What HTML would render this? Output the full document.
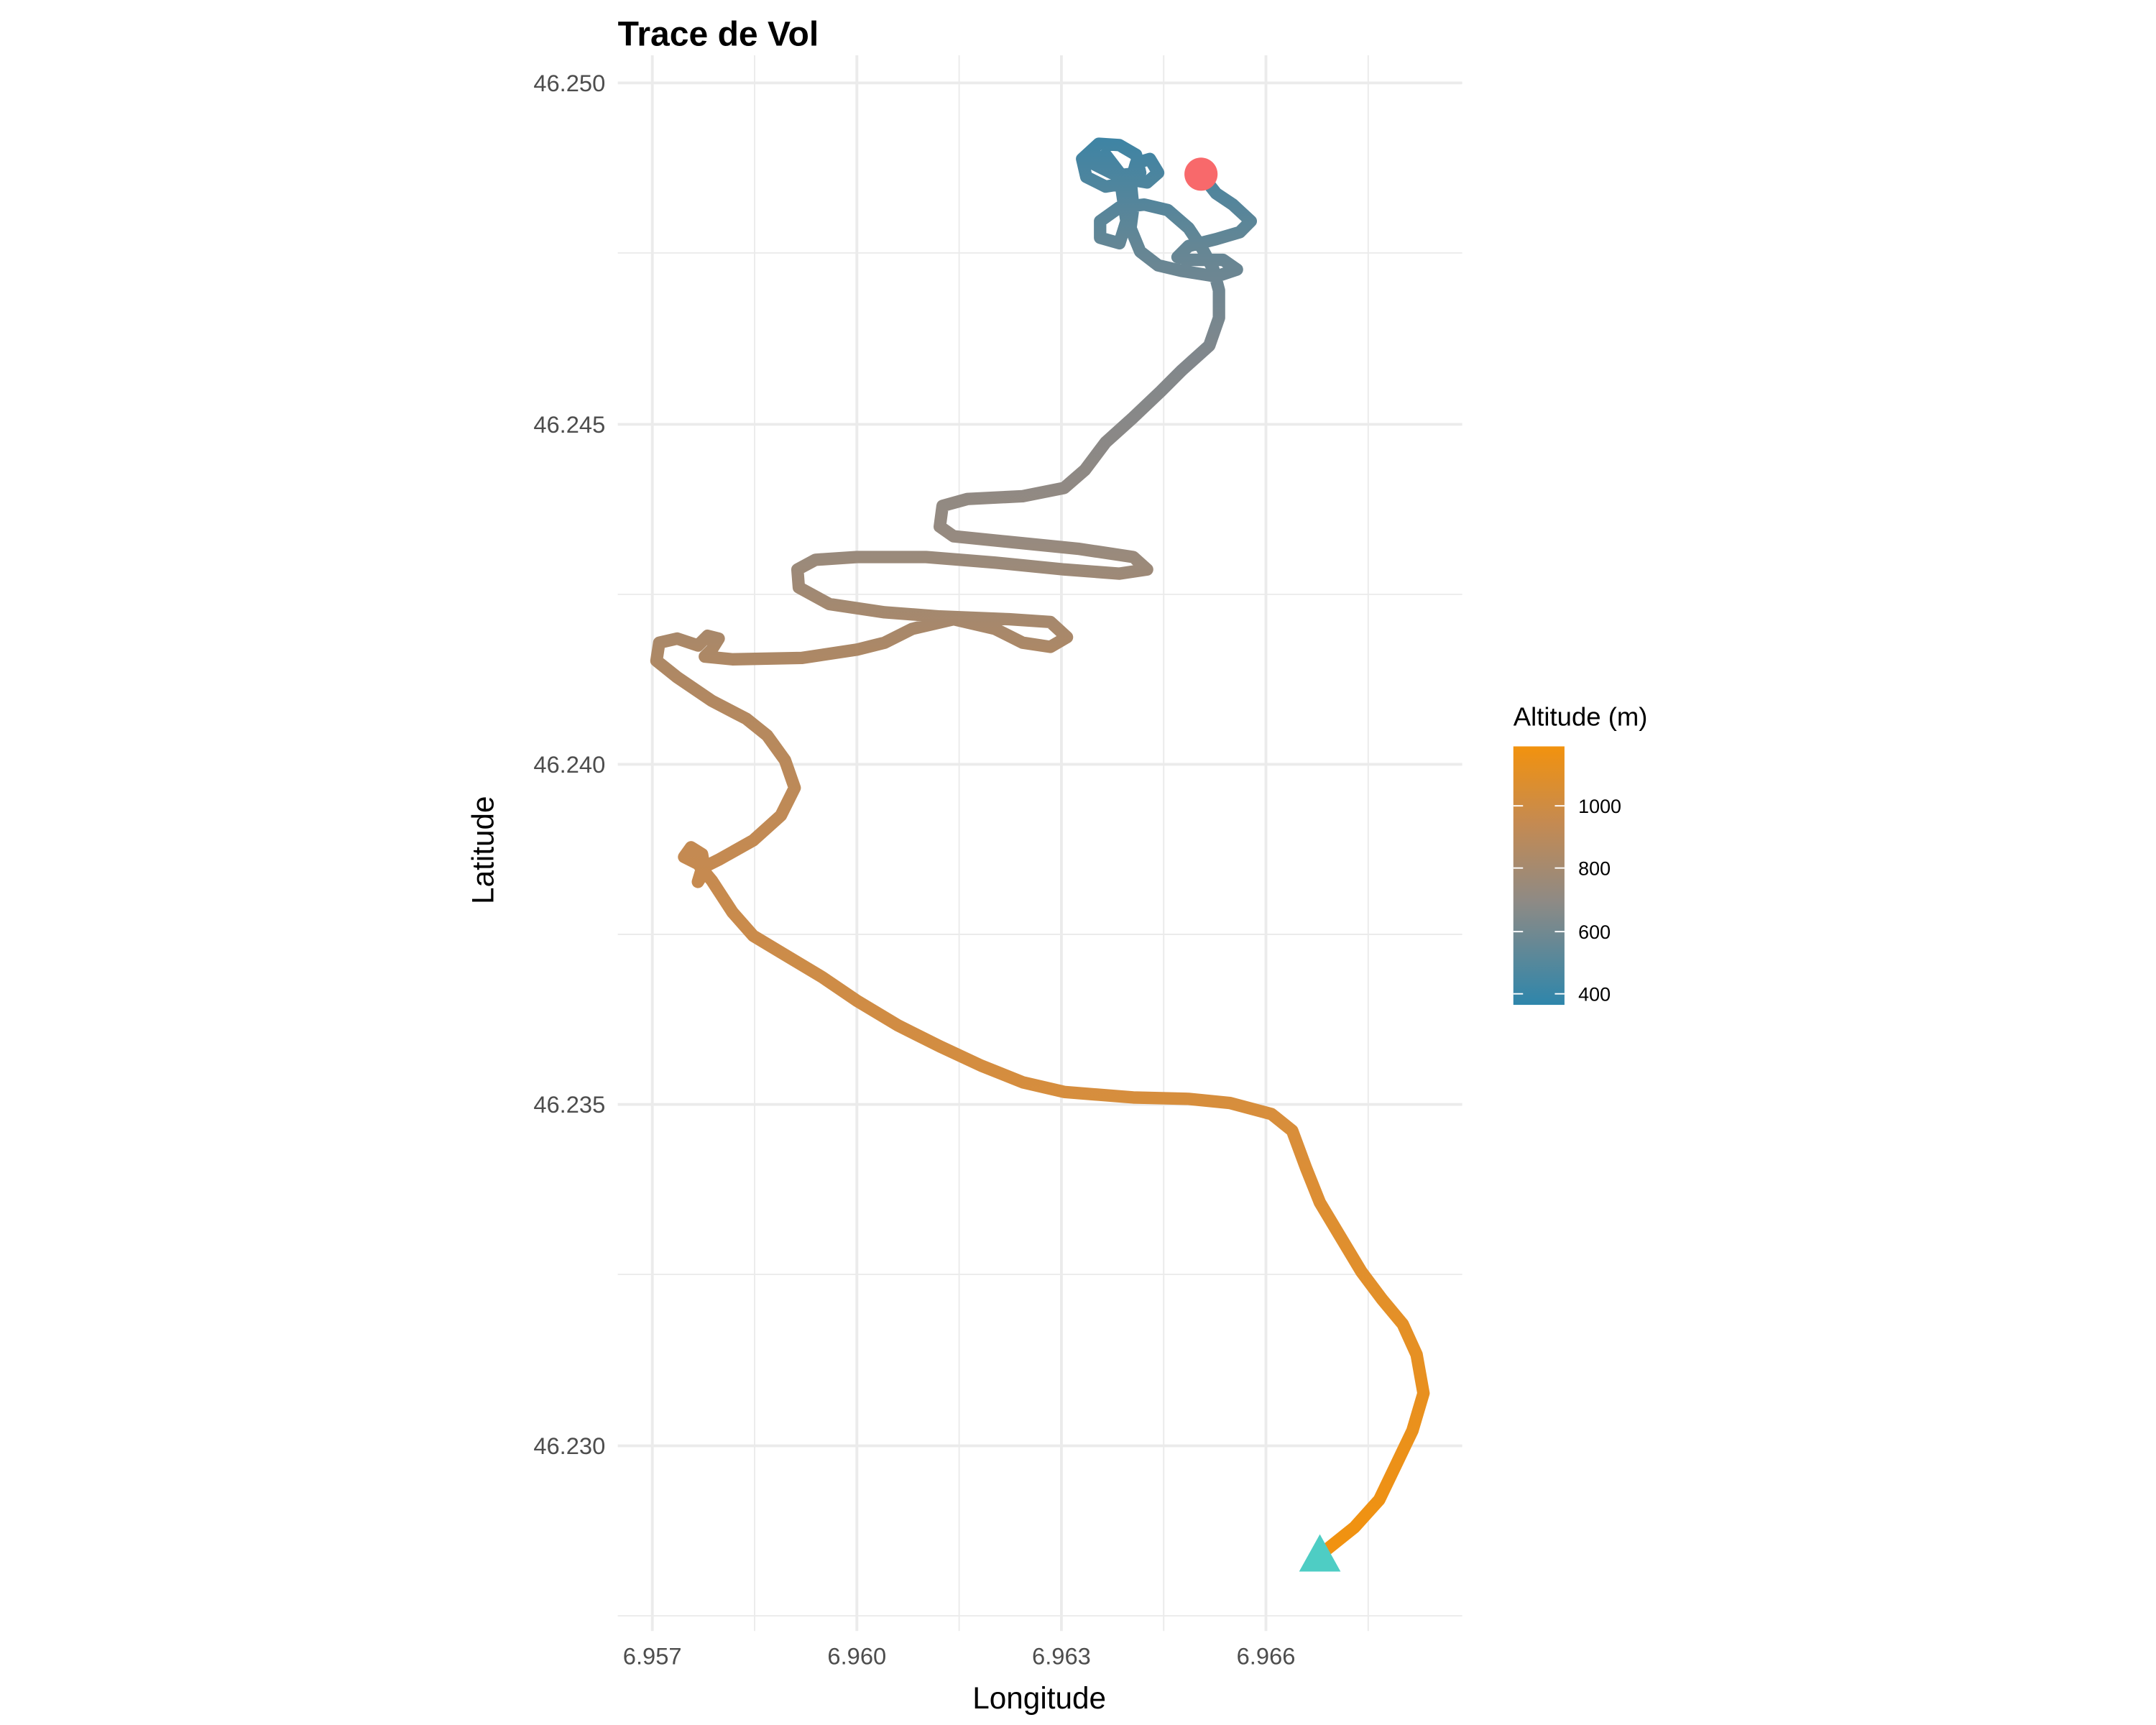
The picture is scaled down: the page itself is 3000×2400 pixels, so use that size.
<!DOCTYPE html>
<html><head><meta charset="utf-8"><style>html,body{margin:0;padding:0;background:#fff}svg{display:block}</style></head>
<body>
<svg width="3000" height="2400" viewBox="0 0 1560 1248" xmlns="http://www.w3.org/2000/svg" font-family="Liberation Sans, sans-serif">
<defs>
<linearGradient id="alt" gradientUnits="userSpaceOnUse" x1="0" y1="100" x2="0" y2="1130">
<stop offset="0" stop-color="#3E84A4"/>
<stop offset="0.08" stop-color="#668694"/>
<stop offset="0.15" stop-color="#80878C"/>
<stop offset="0.28" stop-color="#968A80"/>
<stop offset="0.36" stop-color="#AC8866"/>
<stop offset="0.5" stop-color="#C48A52"/>
<stop offset="0.7" stop-color="#D98E3A"/>
<stop offset="1" stop-color="#F2920E"/>
</linearGradient>
<linearGradient id="leg" x1="0" y1="0" x2="0" y2="1">
<stop offset="0" stop-color="#F2920E"/>
<stop offset="0.3" stop-color="#C48A52"/>
<stop offset="0.6" stop-color="#8E8A85"/>
<stop offset="1" stop-color="#2E86AB"/>
</linearGradient>
</defs>
<rect width="1560" height="1248" fill="#fff"/>
<g stroke="#EBEBEB" stroke-width="1">
<line x1="447" x2="1058" y1="183" y2="183"/><line x1="447" x2="1058" y1="430" y2="430"/>
<line x1="447" x2="1058" y1="676" y2="676"/><line x1="447" x2="1058" y1="922" y2="922"/>
<line x1="447" x2="1058" y1="1169" y2="1169"/>
<line x1="546" x2="546" y1="40" y2="1180"/><line x1="694" x2="694" y1="40" y2="1180"/>
<line x1="842" x2="842" y1="40" y2="1180"/><line x1="990" x2="990" y1="40" y2="1180"/>
</g>
<g stroke="#EBEBEB" stroke-width="2">
<line x1="447" x2="1058" y1="60" y2="60"/><line x1="447" x2="1058" y1="307" y2="307"/>
<line x1="447" x2="1058" y1="553" y2="553"/><line x1="447" x2="1058" y1="799" y2="799"/>
<line x1="447" x2="1058" y1="1046" y2="1046"/>
<line x1="472" x2="472" y1="40" y2="1180"/><line x1="620" x2="620" y1="40" y2="1180"/>
<line x1="768" x2="768" y1="40" y2="1180"/><line x1="916" x2="916" y1="40" y2="1180"/>
</g>
<polyline fill="none" stroke="url(#alt)" stroke-width="9" stroke-linejoin="round" stroke-linecap="round" points="
955,1125 980,1105 998,1085 1010,1060 1022,1035 1030,1008 1025,980 1015,958 1000,940 985,920 970,895 955,870 945,845 935,818 920,806 890,798 860,795 820,794 770,790 740,783 710,771 680,757 650,742 620,724 595,707 570,692 545,677 530,660 515,637 505,625 495,620 500,613 508,618 510,630 505,638 508,628 520,622 545,608 565,590 575,570 568,550 555,532 540,520 515,507 490,490 475,478 477,465 490,462 505,467 512,460 520,462 515,470 510,475 530,477 580,476 620,470 640,465 660,455 690,448 720,455 740,465 760,468 772,461 760,450 730,448 680,446 640,443 600,437 578,425 577,412 590,405 620,403 670,403 720,407 770,412 810,415 830,412 820,403 780,397 730,392 690,388 680,381 682,366 700,361 740,359 770,353 785,340 800,320 820,302 840,283 855,268 875,250 882,230 882,210 878,195 870,180 860,165 845,152 828,148 810,150 796,160 796,172 810,176 815,160 812,140 810,125 800,112 790,118 808,127 825,125 822,112 810,105 795,104 783,115 786,128 800,135 818,132 822,118 832,115 838,125 830,132 818,130 820,150 818,165 825,182 838,192 855,196 880,200 895,195 885,188 860,188 852,186 860,178 880,173 897,168 905,160 892,148 880,140 869,126"/>
<circle cx="869" cy="126" r="12" fill="#F8696B"/>
<polygon points="955,1110 970,1137 940,1137" fill="#4ECDC4"/>
<text x="447" y="33" font-size="25" font-weight="bold" fill="#000">Trace de Vol</text>
<g font-size="17" fill="#4D4D4D" text-anchor="end">
<text x="438" y="66">46.250</text><text x="438" y="313">46.245</text>
<text x="438" y="559">46.240</text><text x="438" y="805">46.235</text>
<text x="438" y="1052">46.230</text>
</g>
<g font-size="17" fill="#4D4D4D" text-anchor="middle">
<text x="472" y="1204">6.957</text><text x="620" y="1204">6.960</text>
<text x="768" y="1204">6.963</text><text x="916" y="1204">6.966</text>
</g>
<text x="752" y="1236" font-size="22" text-anchor="middle" fill="#000">Longitude</text>
<text transform="translate(357,615) rotate(-90)" font-size="22" text-anchor="middle" fill="#000">Latitude</text>
<text x="1095" y="525" font-size="19" fill="#000">Altitude (m)</text>
<rect x="1095" y="540" width="37" height="187" fill="url(#leg)"/>
<g stroke="#fff" stroke-width="1">
<line x1="1095" x2="1102" y1="583" y2="583"/><line x1="1125" x2="1132" y1="583" y2="583"/>
<line x1="1095" x2="1102" y1="628" y2="628"/><line x1="1125" x2="1132" y1="628" y2="628"/>
<line x1="1095" x2="1102" y1="674" y2="674"/><line x1="1125" x2="1132" y1="674" y2="674"/>
<line x1="1095" x2="1102" y1="719" y2="719"/><line x1="1125" x2="1132" y1="719" y2="719"/>
</g>
<g font-size="14" fill="#000">
<text x="1142" y="588">1000</text><text x="1142" y="633">800</text>
<text x="1142" y="679">600</text><text x="1142" y="724">400</text>
</g>
</svg>
</body></html>
